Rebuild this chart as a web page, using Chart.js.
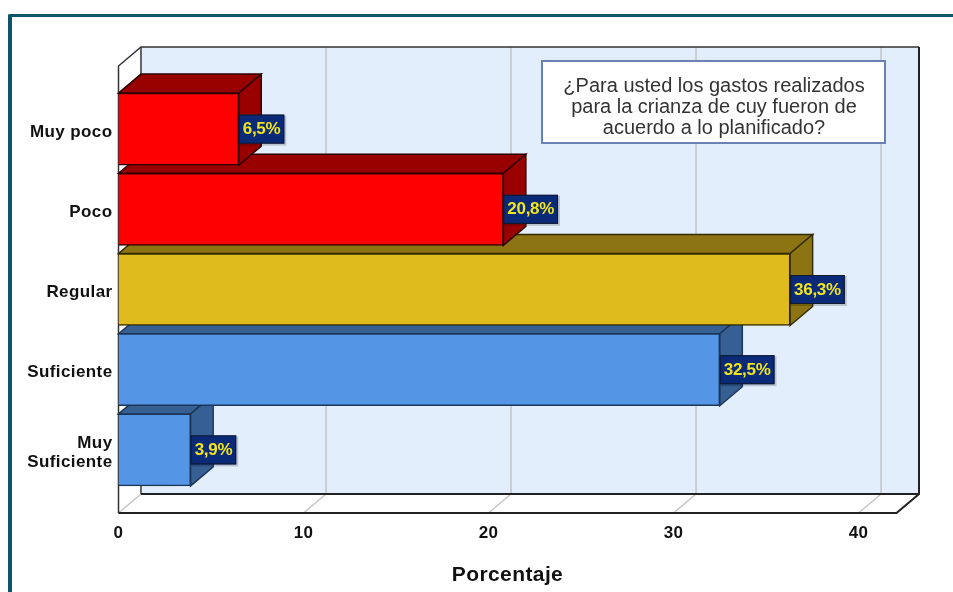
<!DOCTYPE html>
<html><head><meta charset="utf-8">
<style>
html,body{margin:0;padding:0;background:#fff;overflow:hidden}
#frame{position:absolute;left:8px;top:14px;width:960px;height:600px;border-left:4px solid #0e5468;border-top:3px solid #0e5468;border-top-left-radius:2px}
canvas{position:absolute;left:0;top:0}
</style>
<script src="https://cdn.jsdelivr.net/npm/chart.js@4/dist/chart.umd.js"></script>
</head><body>
<div id="frame"></div>
<canvas id="c" width="953" height="592"></canvas>
<script>
const categories = ["Muy poco","Poco","Regular","Suficiente",["Muy","Suficiente"]];
const percentages = [6.5,20.8,36.3,32.5,3.9];
const frontColors = ["#ff0000","#ff0000","#e0bb1d","#5595e5","#5595e5"];
const depthColors = ["#990000","#990000","#8c7412","#365f94","#365f94"];
const edgeColors = ["#2c0000","#2c0000","#332b00","#1d3658","#1d3658"];
const xTitle = "Porcentaje";
const noteLines = ["¿Para usted los gastos realizados","para la crianza de cuy fueron de","acuerdo a lo planificado?"];

const DX = 22.5, DY = -19, PAD = 23;
const boldFont = 'bold 17px "Liberation Sans"';

function poly(ctx, pts, fill, stroke, lw){
  ctx.beginPath();
  pts.forEach((p,i)=> i? ctx.lineTo(p[0],p[1]) : ctx.moveTo(p[0],p[1]));
  ctx.closePath();
  if(fill){ctx.fillStyle=fill;ctx.fill();}
  if(stroke){ctx.strokeStyle=stroke;ctx.lineWidth=lw||1;ctx.stroke();}
}

const box3d = {
  id:'box3d',
  beforeDraw(chart){
    chart.ctx.letterSpacing='0.4px';
  },
  beforeDatasetsDraw(chart){
    const ctx=chart.ctx, a=chart.chartArea, x=chart.scales.x;
    const L=a.left,R=a.right,T=a.top-PAD,B=a.bottom+PAD;
    ctx.save();
    // back wall
    poly(ctx,[[L+DX,T+DY],[R+DX,T+DY],[R+DX,B+DY],[L+DX,B+DY]],'#e2eefb');
    // left wall and floor
    poly(ctx,[[L,T],[L+DX,T+DY],[L+DX,B+DY],[L,B]],'#ffffff');
    poly(ctx,[[L,B],[R,B],[R+DX,B+DY],[L+DX,B+DY]],'#ffffff');
    // gridlines
    x.ticks.forEach(t=>{
      const px=x.getPixelForValue(t.value);
      ctx.strokeStyle='#c4c4c4';ctx.lineWidth=1.5;
      ctx.beginPath();ctx.moveTo(px,B);ctx.lineTo(px+DX,B+DY);
      if(t.value!==0) ctx.lineTo(px+DX,T+DY);
      ctx.stroke();
    });
    // box edges
    ctx.lineJoin='miter';
    ctx.strokeStyle='#666';ctx.lineWidth=2;
    ctx.beginPath();ctx.moveTo(L+DX,B+DY);ctx.lineTo(L+DX,T+DY);ctx.stroke();
    ctx.strokeStyle='#333';ctx.lineWidth=1.5;
    ctx.beginPath();ctx.moveTo(L,B);ctx.lineTo(L,T);ctx.lineTo(L+DX,T+DY);ctx.lineTo(R+DX,T+DY);ctx.stroke();
    ctx.strokeStyle='#222';ctx.lineWidth=2;
    ctx.beginPath();ctx.moveTo(L+DX,B+DY);ctx.lineTo(R+DX,B+DY);ctx.stroke();
    ctx.beginPath();ctx.moveTo(R+DX,T+DY);ctx.lineTo(R+DX,B+DY);ctx.lineTo(R,B);ctx.lineTo(L,B);ctx.stroke();
    // bar depth, lowest bar first
    const bars=chart.getDatasetMeta(0).data;
    for(let i=bars.length-1;i>=0;i--){
      const b=bars[i], h=b.height/2, x0=b.base, x1=b.x, y0=b.y-h, y1=b.y+h;
      poly(ctx,[[x0,y0],[x0+DX,y0+DY],[x1+DX,y0+DY],[x1,y0]],depthColors[i],edgeColors[i],1.5);
      poly(ctx,[[x1,y0],[x1+DX,y0+DY],[x1+DX,y1+DY],[x1,y1]],depthColors[i],edgeColors[i],1.5);
    }
    ctx.restore();
  },
  afterDatasetsDraw(chart){
    const ctx=chart.ctx;
    const bars=chart.getDatasetMeta(0).data;
    ctx.save();
    bars.forEach((b,i)=>{
      const txt=percentages[i].toFixed(1).replace('.',',')+'%';
      ctx.font=boldFont;
      ctx.letterSpacing='-0.3px';
      const w=ctx.measureText(txt).width+8, h=29;
      const bx=b.x, by=b.y-14.5;
      ctx.fillStyle='rgba(0,0,0,0.18)';ctx.fillRect(bx+1,by+1,w+1,h+1);
      ctx.fillStyle='#0a2a78';ctx.fillRect(bx,by,w,h);
      ctx.strokeStyle='#10182e';ctx.lineWidth=1;ctx.strokeRect(bx+.5,by+.5,w-1,h-1);
      ctx.fillStyle='#f2e41e';ctx.textAlign='left';ctx.textBaseline='middle';
      ctx.fillText(txt,bx+4,b.y+0.5);
    });
    // note box
    ctx.letterSpacing='0px';
    ctx.fillStyle='#fff';ctx.fillRect(542,61,343,82);
    ctx.strokeStyle='#6c80b8';ctx.lineWidth=2;ctx.strokeRect(542,61,343,82);
    ctx.fillStyle='#333';ctx.font='20px "Liberation Sans"';ctx.textAlign='center';ctx.textBaseline='middle';
    noteLines.forEach((l,i)=>ctx.fillText(l,714,86+i*21));
    ctx.restore();
  }
};

new Chart(document.getElementById('c'),{
  type:'bar',
  data:{labels:categories,datasets:[{data:percentages,backgroundColor:frontColors,borderColor:edgeColors,borderWidth:1.5,barThickness:72}]},
  options:{
    indexAxis:'y',responsive:false,animation:false,
    layout:{padding:{top:89,right:56.5,left:0,bottom:0}},
    plugins:{legend:{display:false},tooltip:{enabled:false},title:{display:false}},
    scales:{
      x:{min:0,max:42.05,
        grid:{display:false,drawTicks:false},border:{display:false},
        ticks:{stepSize:10,includeBounds:false,maxRotation:0,padding:33,color:'#111',font:{family:'"Liberation Sans"',size:17,weight:'bold'}},
        title:{display:true,text:xTitle,color:'#111',font:{family:'"Liberation Sans"',size:21,weight:'bold'},padding:{top:0,bottom:4}},
        afterFit(s){s.height=102;}
      },
      y:{
        grid:{display:false,drawTicks:false},border:{display:false},
        ticks:{padding:6,labelOffset:3,color:'#111',font:{family:'"Liberation Sans"',size:17,weight:'bold',lineHeight:1.08}},
        afterFit(s){s.width=118.5;}
      }
    }
  },
  plugins:[box3d]
});
</script>
</body></html>
